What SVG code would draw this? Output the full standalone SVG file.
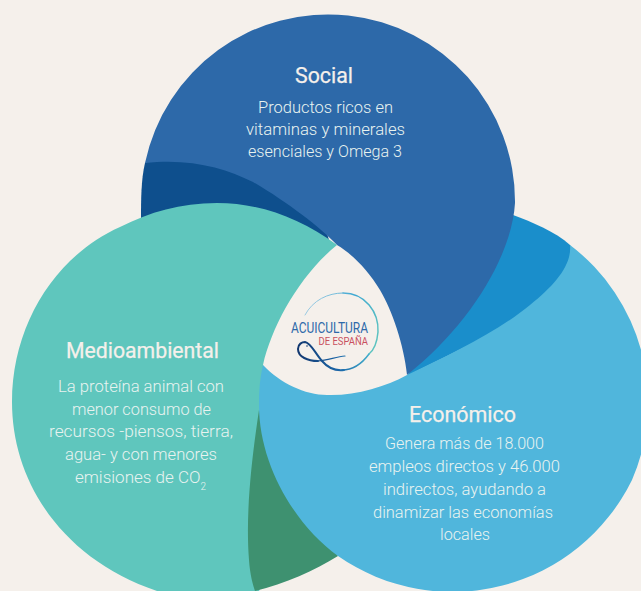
<svg xmlns="http://www.w3.org/2000/svg" width="641" height="591" viewBox="0 0 641 591">
<style>
text{font-family:Roboto,"Liberation Sans",sans-serif;text-anchor:middle}
.t{font-size:22px;font-weight:400;fill:#f5f0eb;stroke:#f5f0eb;stroke-width:.25px}
.b{font-size:17px;font-weight:300;fill:#e8f3f0}
.s{font-size:10px}
.l1{font-size:14px;font-weight:400;fill:#2d69a9;text-anchor:start}
.l2{font-size:10px;font-weight:400;fill:#c9505f;text-anchor:start}
.ring{fill:none;stroke-linecap:round}
</style>
<defs>
<linearGradient id="rg" gradientUnits="userSpaceOnUse" x1="305" y1="315" x2="378" y2="350">
<stop offset="0" stop-color="#8fc5e0"/><stop offset=".45" stop-color="#3fa8d2"/><stop offset="1" stop-color="#5fc6bd"/>
</linearGradient>
<linearGradient id="fg" gradientUnits="userSpaceOnUse" x1="298" y1="350" x2="372" y2="350">
<stop offset="0" stop-color="#12376f"/><stop offset=".55" stop-color="#1b66a8"/><stop offset="1" stop-color="#45b4cf"/>
</linearGradient>
</defs>
<rect id="background" width="641" height="591" fill="#f5f0eb"/>
<g id="overlaps">
<path id="overlap-social-medio" fill="#0e4f8d" d="M145 163 C141 180 141 200 141 220 L330 243 L300 150 L170 150 Z"/>
<path id="overlap-social-economico" fill="#1a8ecb" d="M513 215 C532 222 556 232 570 245 L580 262 L560 300 L407 376 Z"/>
</g>
<g id="node-social">
<path fill="#2d69a9" d="M145 163 A187 187 0 0 1 515 203 C512 255 470 325 407 375 C404 345 392 310 380 290 C368 270 352 254 337 245 C320 227 287 202 253 182 C225 168 190 158 145 163 Z"/>
<text class="t" x="324" y="83" textLength="58" lengthAdjust="spacingAndGlyphs">Social</text>
<text class="b" x="325.500" y="113" textLength="135" lengthAdjust="spacingAndGlyphs">Productos ricos en</text>
<text class="b" x="325.500" y="135" textLength="159" lengthAdjust="spacingAndGlyphs">vitaminas y minerales</text>
<text class="b" x="325" y="157" textLength="154" lengthAdjust="spacingAndGlyphs">esenciales y Omega 3</text>
</g>
<g id="node-medioambiental">
<path fill="#5fc6bd" d="M337 245 C300 218 260 203 217 203 C180 203 150 212 120 227 C55 256 12 325 12 402 C12 480 60 558 157 591 L160 600 L255 600 L300 500 L263 365 C272 325 300 275 337 245 Z"/>
<path id="overlap-medio-economico" fill="#3e9170" d="M259 410 C253 450 245 510 249 560 C250 575 253 585 255 591 C285 584 315 570 338 556 L300 480 Z"/>
<text class="t" x="142.500" y="358" textLength="153" lengthAdjust="spacingAndGlyphs">Medioambiental</text>
<text class="b" x="141" y="392" textLength="166" lengthAdjust="spacingAndGlyphs">La proteína animal con</text>
<text class="b" x="141.500" y="415" textLength="139" lengthAdjust="spacingAndGlyphs">menor consumo de</text>
<text class="b" x="141" y="437" textLength="184" lengthAdjust="spacingAndGlyphs">recursos -piensos, tierra,</text>
<text class="b" x="141" y="460" textLength="152" lengthAdjust="spacingAndGlyphs">agua- y con menores</text>
<text class="b" x="140.500" y="483">emisiones de CO<tspan class="s" dy="7">2</tspan></text>
</g>
<g id="node-economico">
<path fill="#50b6dc" d="M570 245 A197 197 0 0 1 632 480 A200 200 0 0 1 338 556 C295 525 259 465 259 405 C259 390 260 378 263 365 C280 383 305 395 327 395 C355 396 385 387 407 375 C450 355 500 330 530 305 C555 285 572 265 570 245 Z"/>
<text class="t" x="462.500" y="422" textLength="107" lengthAdjust="spacingAndGlyphs">Económico</text>
<text class="b" x="464.500" y="449" textLength="159" lengthAdjust="spacingAndGlyphs">Genera más de 18.000</text>
<text class="b" x="464.500" y="472" textLength="191" lengthAdjust="spacingAndGlyphs">empleos directos y 46.000</text>
<text class="b" x="464.500" y="495" textLength="163" lengthAdjust="spacingAndGlyphs">indirectos, ayudando a</text>
<text class="b" x="463" y="518" textLength="180" lengthAdjust="spacingAndGlyphs">dinamizar las economías</text>
<text class="b" x="465" y="540" textLength="50" lengthAdjust="spacingAndGlyphs">locales</text>
</g>
<g id="node-logo">
<path class="ring" stroke="url(#rg)" stroke-width=".9" d="M305 315 C313 300 328 293 343 293"/>
<path class="ring" stroke="url(#rg)" stroke-width="1.5" d="M343 293 C365 293 379 312 378 332 C377 343 374 350 369 354"/>
<path class="ring" stroke="url(#fg)" stroke-width="1.5" d="M369 354 C361 365 352 370 342 370"/>
<path class="ring" stroke="url(#fg)" stroke-width="1.2" d="M345 356 C336 357 328 360 318 361"/>
<path class="ring" stroke="url(#fg)" stroke-width="2" d="M318 361 C308 361 298 357 298 349 C298 344 302 342 305 342 C311 343 315 353 322 361 C328 368 336 371 344 370"/>
<circle cx="307" cy="346" r=".8" fill="#12376f"/>
<text class="l1" x="291" y="333" textLength="77" lengthAdjust="spacingAndGlyphs">ACUICULTURA</text>
<text class="l2" x="318.500" y="344.500" textLength="49.500" lengthAdjust="spacingAndGlyphs">DE ESPAÑA</text>
</g>
</svg>
